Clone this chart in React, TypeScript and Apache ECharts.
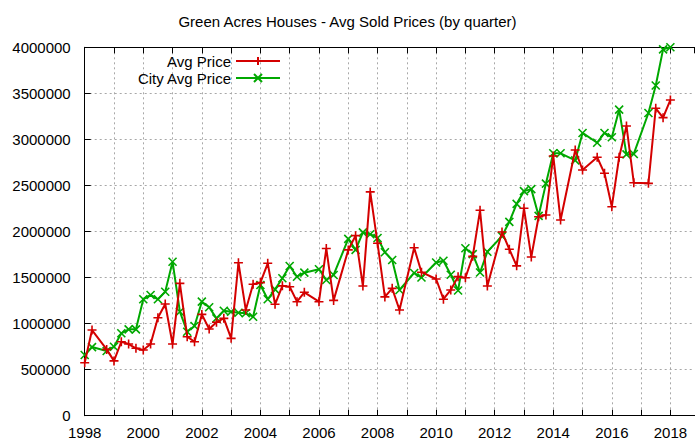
import React, { useEffect, useRef } from 'react';
import * as echarts from 'echarts';

const TITLE = 'Green Acres Houses - Avg Sold Prices (by quarter)';
const SERIES_NAMES = ['Avg Price', 'City Avg Price'];

// quarter positions (decimal years)
const QUARTERS = [
  1998.0, 1998.25, 1998.75,
  1999.0, 1999.25, 1999.5, 1999.75,
  2000.0, 2000.25, 2000.5, 2000.75,
  2001.0, 2001.25, 2001.5, 2001.75,
  2002.0, 2002.25, 2002.5, 2002.75,
  2003.0, 2003.25, 2003.5, 2003.75,
  2004.0, 2004.25, 2004.5, 2004.75,
  2005.0, 2005.25, 2005.5,
  2006.0, 2006.25, 2006.5,
  2007.0, 2007.25, 2007.5, 2007.75,
  2008.0, 2008.25, 2008.5, 2008.75,
  2009.25, 2009.5,
  2010.0, 2010.25, 2010.5, 2010.75,
  2011.0, 2011.25, 2011.5, 2011.75,
  2012.25, 2012.5, 2012.75,
  2013.0, 2013.25, 2013.5, 2013.75,
  2014.0, 2014.25, 2014.75,
  2015.0, 2015.5, 2015.75,
  2016.0, 2016.25, 2016.5, 2016.75,
  2017.25, 2017.5, 2017.75,
  2018.0,
];

const AVG_PRICE = [
  575000, 930000, 720000,
  595000, 803000, 778000, 732000,
  713000, 778000, 1064000, 1213000,
  778000, 1437000, 858000, 803000,
  1100000, 941000, 1015000, 1057000,
  840000, 1661000, 1148000, 1427000,
  1445000, 1655000, 1210000, 1410000,
  1400000, 1238000, 1340000,
  1238000, 1815000, 1252000,
  1800000, 1955000, 1408000, 2430000,
  1872000, 1290000, 1383000, 1148000,
  1823000, 1558000,
  1484000, 1265000, 1365000, 1510000,
  1498000, 1730000, 2230000, 1408000,
  1995000, 1807000, 1627000,
  2252000, 1723000, 2160000, 2179000,
  2820000, 2125000, 2885000,
  2668000, 2806000, 2632000,
  2269000, 2806000, 3146000, 2530000,
  2523000, 3338000, 3236000,
  3428000,
];

const CITY_AVG_PRICE = [
  659000, 745000, 703000,
  749000, 895000, 938000, 938000,
  1264000, 1311000, 1264000, 1346000,
  1672000, 1129000, 912000, 974000,
  1238000, 1177000, 1057000, 1140000,
  1129000, 1118000, 1112000, 1075000,
  1419000, 1264000, 1372000, 1492000,
  1625000, 1509000, 1553000,
  1590000, 1473000, 1528000,
  1920000, 1800000, 1990000, 1970000,
  1930000, 1775000, 1690000, 1365000,
  1550000, 1500000,
  1664000, 1683000, 1530000, 1360000,
  1818000, 1755000, 1555000, 1780000,
  1950000, 2105000, 2300000,
  2438000, 2460000, 2170000, 2520000,
  2849000, 2849000, 2772000,
  3070000, 2964000, 3070000,
  3023000, 3323000, 2837000, 2842000,
  3287000, 3585000, 3978000,
  4000000,
];

const X_MIN = 1998;
const X_MAX = 2018.83; // visible end of the (cropped) axis
const Y_MIN = 0;
const Y_MAX = 4000000;
const Y_STEP = 500000;

const RED = '#d40000';
const GREEN = '#00a800';
const FONT = "'Liberation Sans', Arial, sans-serif";

const PLUS = 'path://M0,5L10,5M5,0L5,10';
const CROSS = 'path://M0,0L10,10M10,0L0,10';

export default function App() {
  const ref = useRef<HTMLDivElement>(null);
  useEffect(() => {
    if (!ref.current) return;
    const chart = echarts.init(ref.current, undefined, { renderer: 'svg' });
    const gridLine = {
      show: true,
      showMinLine: false,
      showMaxLine: false,
      lineStyle: { color: '#a8a8a8', width: 1, type: [2, 3] as any },
    };
    const legendBase = {
      orient: 'vertical' as const,
      right: 414,
      align: 'right' as const,
      itemWidth: 44,
      itemHeight: 10,
      padding: 0,
      selectedMode: false,
      textStyle: { fontSize: 15, color: '#000', fontFamily: FONT, lineHeight: 16 },
    };
    const axisLine = { show: true, lineStyle: { color: '#000', width: 1 } };
    const tick = { show: true, inside: true, length: 6, lineStyle: { color: '#000' } };
    chart.setOption({
      animation: false,
      backgroundColor: '#fff',
      title: {
        text: TITLE,
        left: 'center',
        top: 9,
        textStyle: { fontSize: 15, fontWeight: 'normal', color: '#000', fontFamily: FONT },
      },
      legend: [
        { ...legendBase, data: [SERIES_NAMES[0]], top: 53 },
        { ...legendBase, data: [SERIES_NAMES[1]], top: 70 },
      ],
      grid: {
        left: 84.7,
        top: 47.3,
        bottom: 26.3,
        right: 0.3,
        show: false,
      },
      xAxis: [
        {
          type: 'value',
          min: X_MIN,
          max: X_MAX,
          interval: 1,
          axisLine,
          axisTick: tick,
          axisLabel: {
            fontSize: 15,
            color: '#000',
            fontFamily: FONT,
            margin: 9,
            showMaxLabel: false,
            formatter: (v: number) =>
              Math.abs(v - Math.round(v)) < 1e-6 && Math.round(v) % 2 === 0 ? String(Math.round(v)) : '',
          },
          splitLine: gridLine,
        },
        {
          type: 'value',
          position: 'top',
          min: X_MIN,
          max: X_MAX,
          interval: 1,
          axisLine,
          axisTick: tick,
          axisLabel: { show: false },
          splitLine: { show: false },
        },
      ],
      yAxis: {
        type: 'value',
        min: Y_MIN,
        max: Y_MAX,
        interval: Y_STEP,
        axisLine,
        axisTick: tick,
        axisLabel: {
          fontSize: 15,
          color: '#000',
          fontFamily: FONT,
          margin: 14,
          formatter: (v: number) => String(v),
        },
        splitLine: gridLine,
      },
      series: [
        {
          name: SERIES_NAMES[0],
          type: 'line',
          xAxisIndex: 0,
          data: QUARTERS.map((q, i) => [q, AVG_PRICE[i]]),
          symbol: PLUS,
          symbolSize: 9,
          showAllSymbol: true,
          lineStyle: { color: RED, width: 2 },
          itemStyle: { color: RED, borderColor: RED, borderWidth: 1.6 },
          z: 3,
        },
        {
          name: SERIES_NAMES[1],
          type: 'line',
          xAxisIndex: 0,
          data: QUARTERS.map((q, i) => [q, CITY_AVG_PRICE[i]]),
          symbol: CROSS,
          symbolSize: 8,
          showAllSymbol: true,
          lineStyle: { color: GREEN, width: 2 },
          itemStyle: { color: GREEN, borderColor: GREEN, borderWidth: 1.6 },
          z: 2,
        },
      ],
    });
    return () => chart.dispose();
  }, []);
  return (
    <div
      ref={ref}
      style={{ position: 'fixed', left: 0, top: 0, width: 695, height: 442 }}
    />
  );
}
